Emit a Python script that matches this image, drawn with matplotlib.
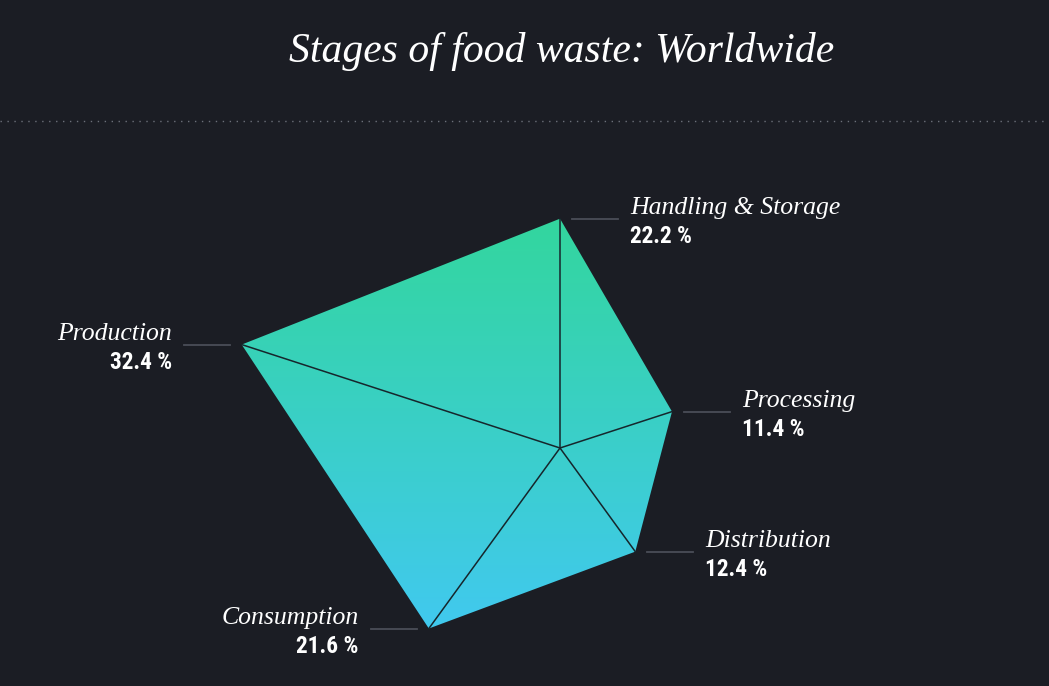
import numpy as np
import matplotlib
matplotlib.use("Agg")
import matplotlib.pyplot as plt
import matplotlib.transforms as mtransforms
from matplotlib.patches import Polygon
from matplotlib.colors import LinearSegmentedColormap

# ---- data ----
categories = ["Production", "Handling & Storage", "Processing", "Distribution", "Consumption"]
values = [32.4, 22.2, 11.4, 12.4, 21.6]
value_labels = ["32.4 %", "22.2 %", "11.4 %", "12.4 %", "21.6 %"]
title = "Stages of food waste: Worldwide"

BG = "#1b1d24"
TOP_COLOR = "#33d69e"
BOTTOM_COLOR = "#41c9ef"
SERIF = ["Liberation Serif", "DejaVu Serif"]
COND = ["Roboto Condensed", "Roboto", "DejaVu Sans"]

W, H, DPI = 1049, 686, 100
PX_PER_UNIT = 10.33
CX, CY = 560, 448

fig = plt.figure(figsize=(W / DPI, H / DPI), dpi=DPI, facecolor=BG)
ax = fig.add_axes([0, 0, 1, 1])
ax.set_facecolor(BG)
ax.set_xlim(-CX / PX_PER_UNIT, (W - CX) / PX_PER_UNIT)
ax.set_ylim(-(H - CY) / PX_PER_UNIT, CY / PX_PER_UNIT)
ax.axis("off")

# angles: Production at 162 deg, then clockwise every 72 deg
n = len(values)
angles = np.deg2rad(162 - 72 * np.arange(n))
vals = np.array(values)
xs = vals * np.cos(angles)
ys = vals * np.sin(angles)
pts = np.column_stack([xs, ys])

poly = Polygon(pts, closed=True, facecolor="none", edgecolor="none")
ax.add_patch(poly)
cmap = LinearSegmentedColormap.from_list("g", [BOTTOM_COLOR, TOP_COLOR])
grad = np.linspace(0, 1, 256).reshape(-1, 1)
im = ax.imshow(grad, cmap=cmap, origin="lower", aspect="auto",
               extent=[xs.min(), xs.max(), ys.min(), ys.max()], zorder=2)
im.set_clip_path(poly)

for x, y in zip(xs, ys):
    ax.plot([0, x], [0, y], color="#16262c", lw=1.1, zorder=3)

# labels with leader lines
for cat, vl, x, y in zip(categories, value_labels, xs, ys):
    right = x > -0.5
    s = 1 if right else -1
    ha = "left" if right else "right"
    ax.annotate(cat, xy=(x, y), xytext=(s * 70, 5), textcoords="offset pixels",
                ha=ha, va="baseline", color="white", fontsize=18.5,
                family=SERIF, style="italic", zorder=5)
    ax.annotate(vl, xy=(x, y), xytext=(s * 70, -24), textcoords="offset pixels",
                ha=ha, va="baseline", color="white", fontsize=16.8,
                family=COND, weight="bold", zorder=5)
    off1 = mtransforms.offset_copy(ax.transData, fig=fig, x=s * 12, y=0, units="dots")
    off2 = mtransforms.offset_copy(ax.transData, fig=fig, x=s * 58, y=0, units="dots")
    p1 = off1.transform((x, y))
    p2 = off2.transform((x, y))
    fig.add_artist(plt.Line2D([p1[0] / W, p2[0] / W], [p1[1] / H, p2[1] / H],
                              transform=fig.transFigure, color="#4a4d57", lw=1.3))

# title and dotted rule
fig.text(562 / W, 1 - 62 / H, title, ha="center", va="baseline", color="white",
         fontsize=30, family=SERIF, style="italic")
fig.add_artist(plt.Line2D([0, 1], [1 - 121 / H, 1 - 121 / H], transform=fig.transFigure,
                          color="#6c707a", lw=1, linestyle=(0, (1, 4))))

fig.savefig("out.png", dpi=DPI, facecolor=BG)
